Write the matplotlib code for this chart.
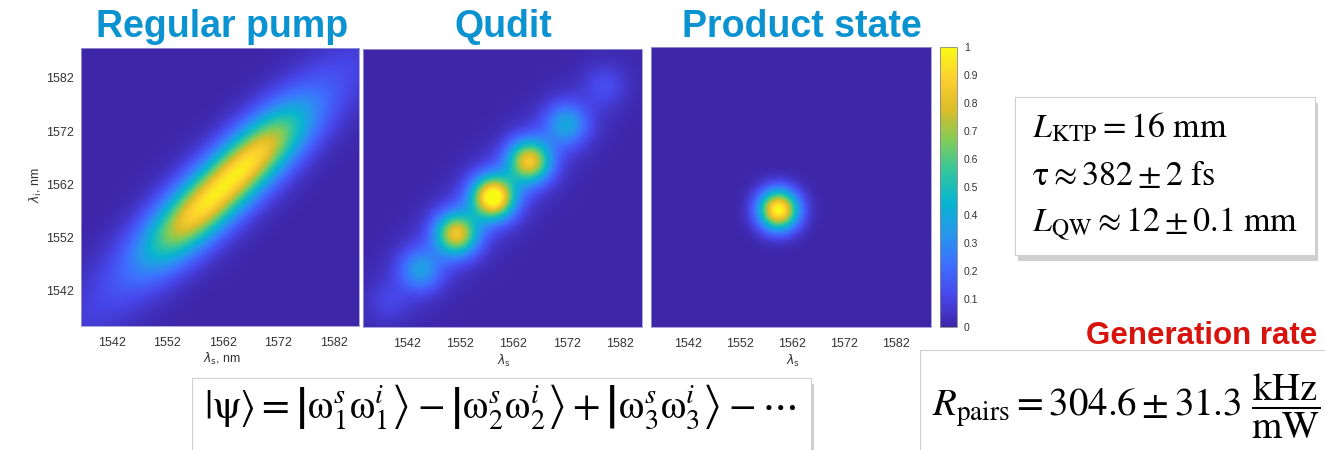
import numpy as np
import matplotlib.pyplot as plt
from matplotlib.colors import LinearSegmentedColormap
from matplotlib.patches import Rectangle

# ---- data ----
TITLES = ["Regular pump", "Qudit", "Product state"]
TICKS = [1542, 1552, 1562, 1572, 1582]
CBAR_TICKS = [0, 0.1, 0.2, 0.3, 0.4, 0.5, 0.6, 0.7, 0.8, 0.9, 1]

# axis spans (nm) of the three images: (x0, x1, y0, y1)
EXTENTS = [(1536.5, 1586.5, 1535.4, 1587.6),
           (1533.8, 1586.1, 1533.8, 1586.1),
           (1534.9, 1588.7, 1534.9, 1588.7)]

# regular pump: elongated spot along the diagonal (core + faint halo)
PUMP_CENTER = (1562.5, 1562.0)
PUMP_CORE = (0.72, 14.6, 3.5)   # amplitude, half-length along, width across (nm)
PUMP_HALO = (0.24, 24.0, 4.6)
PUMP_PEAK = 0.97

# qudit: row of spots along the diagonal
QUDIT_POS = [1538.5, 1544.5, 1551.3, 1558.2, 1565.0, 1572.0, 1579.2]
QUDIT_AMP = [0.07, 0.30, 0.74, 0.97, 0.76, 0.33, 0.10]
QUDIT_SIGMA = 2.8
QUDIT_BAND = (0.11, 18.0, 4.8)   # faint glow along the diagonal

# product state: single round spot
PROD_CENTER = (1559.4, 1557.4)
PROD_SIGMA = 2.7
PROD_PEAK = 1.0

# parula-like colormap anchors
PARULA = [(0.2422, 0.1504, 0.6603), (0.2803, 0.2782, 0.9221),
          (0.2440, 0.4358, 0.9988), (0.1540, 0.5902, 0.9218),
          (0.0297, 0.7082, 0.8163), (0.1938, 0.7758, 0.6251),
          (0.5044, 0.7993, 0.3480), (0.8634, 0.7406, 0.1596),
          (0.9892, 0.8136, 0.1885), (0.9769, 0.9839, 0.0805)]
parula = LinearSegmentedColormap.from_list("parula", PARULA)

N = 300


def grid(ext):
    x = np.linspace(ext[0], ext[1], N)
    y = np.linspace(ext[2], ext[3], N)
    return np.meshgrid(x, y)


def diag(X, Y, c):
    u = ((X - c[0]) + (Y - c[1])) / np.sqrt(2)
    v = ((X - c[0]) - (Y - c[1])) / np.sqrt(2)
    return u, v


def pump_img(ext):
    X, Y = grid(ext)
    u, v = diag(X, Y, PUMP_CENTER)
    a, lu, lv = PUMP_CORE
    Z = a * np.exp(-0.5 * np.abs(u / lu)**3 - v**2 / (2 * lv**2))
    a, lu, lv = PUMP_HALO
    Z += a * np.exp(-u**2 / (2 * lu**2) - v**2 / (2 * lv**2))
    return PUMP_PEAK * Z / Z.max()


def qudit_img(ext):
    X, Y = grid(ext)
    Z = np.zeros_like(X)
    for p, a in zip(QUDIT_POS, QUDIT_AMP):
        Z += a * np.exp(-((X - p)**2 + (Y - p)**2) / (2 * QUDIT_SIGMA**2))
    u, v = diag(X, Y, (1558.2, 1558.2))
    a, lu, lv = QUDIT_BAND
    Z += a * np.exp(-u**2 / (2 * lu**2) - v**2 / (2 * lv**2))
    return np.clip(Z, 0, 1)


def prod_img(ext):
    X, Y = grid(ext)
    return PROD_PEAK * np.exp(-((X - PROD_CENTER[0])**2 + (Y - PROD_CENTER[1])**2) / (2 * PROD_SIGMA**2))


W, H = 1325, 450
fig = plt.figure(figsize=(W / 100, H / 100), dpi=100)
plt.rcParams['mathtext.fontset'] = 'stix'
SANS = 'Liberation Sans'
GREY = '#333333'


def px_axes(l, t, r, b):
    return fig.add_axes([l / W, 1 - b / H, (r - l) / W, (b - t) / H])


axes = [px_axes(81, 48, 359, 326), px_axes(363, 49, 642, 327), px_axes(651, 47, 931, 327)]
imgs = [pump_img(EXTENTS[0]), qudit_img(EXTENTS[1]), prod_img(EXTENTS[2])]

for i, (ax, Z, ext) in enumerate(zip(axes, imgs, EXTENTS)):
    im = ax.imshow(Z, origin='lower', extent=ext, cmap=parula, vmin=0, vmax=1,
                   aspect='auto', interpolation='bilinear')
    ax.set_xticks(TICKS)
    ax.set_xticklabels([str(t) for t in TICKS], family=SANS)
    ax.tick_params(length=0, labelsize=9, labelcolor=GREY, pad=8)
    if i == 0:
        ax.set_yticks(TICKS)
        ax.set_yticklabels([str(t) for t in TICKS], family=SANS)
        ax.tick_params(axis='y', pad=5)
    else:
        ax.set_yticks([])
    for s in ax.spines.values():
        s.set_color('#9c98d2')
        s.set_linewidth(0.6)

lab = dict(ha='center', va='center', fontsize=9, color=GREY, family=SANS,
           math_fontfamily='dejavusans')
fig.text(222 / W, 1 - 359 / H, r'$\lambda_{\mathrm{s}}$, nm', **lab)
fig.text(36 / W, 1 - 185 / H, r'$\lambda_{\mathrm{i}}$, nm', rotation=90, **lab)
fig.text(504 / W, 1 - 361 / H, r'$\lambda_{\mathrm{s}}$', **lab)
fig.text(793 / W, 1 - 361 / H, r'$\lambda_{\mathrm{s}}$', **lab)

cax = px_axes(940, 47, 957, 327)
cb = fig.colorbar(im, cax=cax, ticks=CBAR_TICKS)
cb.ax.set_yticklabels([f"{t:g}" for t in CBAR_TICKS], family=SANS)
cb.ax.tick_params(length=0, labelsize=7.5, labelcolor=GREY, pad=5)
cb.outline.set_edgecolor('#888888')
cb.outline.set_linewidth(0.6)

# titles
for t, cx in zip(TITLES, [222, 503, 802]):
    fig.text(cx / W, 1 - 37 / H, t, ha='center', va='baseline', fontsize=27,
             fontweight='bold', color='#0b93d1', family=SANS)


def box(l, t, r, b):
    fig.add_artist(Rectangle((l / W + 3 / W, 1 - (b + 6) / H), (r - l) / W, (b - t) / H,
                             transform=fig.transFigure, facecolor='#b0b0b0', edgecolor='none',
                             alpha=0.6, zorder=1))
    fig.add_artist(Rectangle((l / W, 1 - b / H), (r - l) / W, (b - t) / H,
                             transform=fig.transFigure, facecolor='white', edgecolor='#d0d0d0',
                             linewidth=0.8, zorder=2))


box(1015, 97, 1315, 255)
for txt, y in zip([r'$L_{\mathrm{KTP}} = 16\ \mathrm{mm}$',
                   r'$\mathrm{\tau} \approx 382 \pm 2\ \mathrm{fs}$',
                   r'$L_{\mathrm{QW}} \approx 12 \pm 0.1\ \mathrm{mm}$'], [137, 185, 232]):
    fig.text(1032 / W, 1 - y / H, txt, ha='left', va='baseline', fontsize=24.5, zorder=3)

box(192, 378, 811, 455)
fig.text(500 / W, 1 - 418 / H,
         r'$|\mathrm{\psi}\rangle = \left|\mathrm{\omega}_1^s\mathrm{\omega}_1^i\right\rangle - '
         r'\left|\mathrm{\omega}_2^s\mathrm{\omega}_2^i\right\rangle + '
         r'\left|\mathrm{\omega}_3^s\mathrm{\omega}_3^i\right\rangle - \cdots$',
         ha='center', va='baseline', fontsize=29, zorder=3)

fig.text(1202 / W, 1 - 336 / H, "Generation rate", ha='center', va='center', fontsize=22.5,
         fontweight='bold', color='#d8120c', family=SANS)
box(920, 350, 1335, 455)
fig.text(932 / W, 1 - 416 / H,
         r'$R_{\mathrm{pairs}} = 304.6 \pm 31.3\ \dfrac{\mathrm{kHz}}{\mathrm{mW}}$',
         ha='left', va='baseline', fontsize=28, zorder=3)

fig.savefig("out.png", dpi=100)
